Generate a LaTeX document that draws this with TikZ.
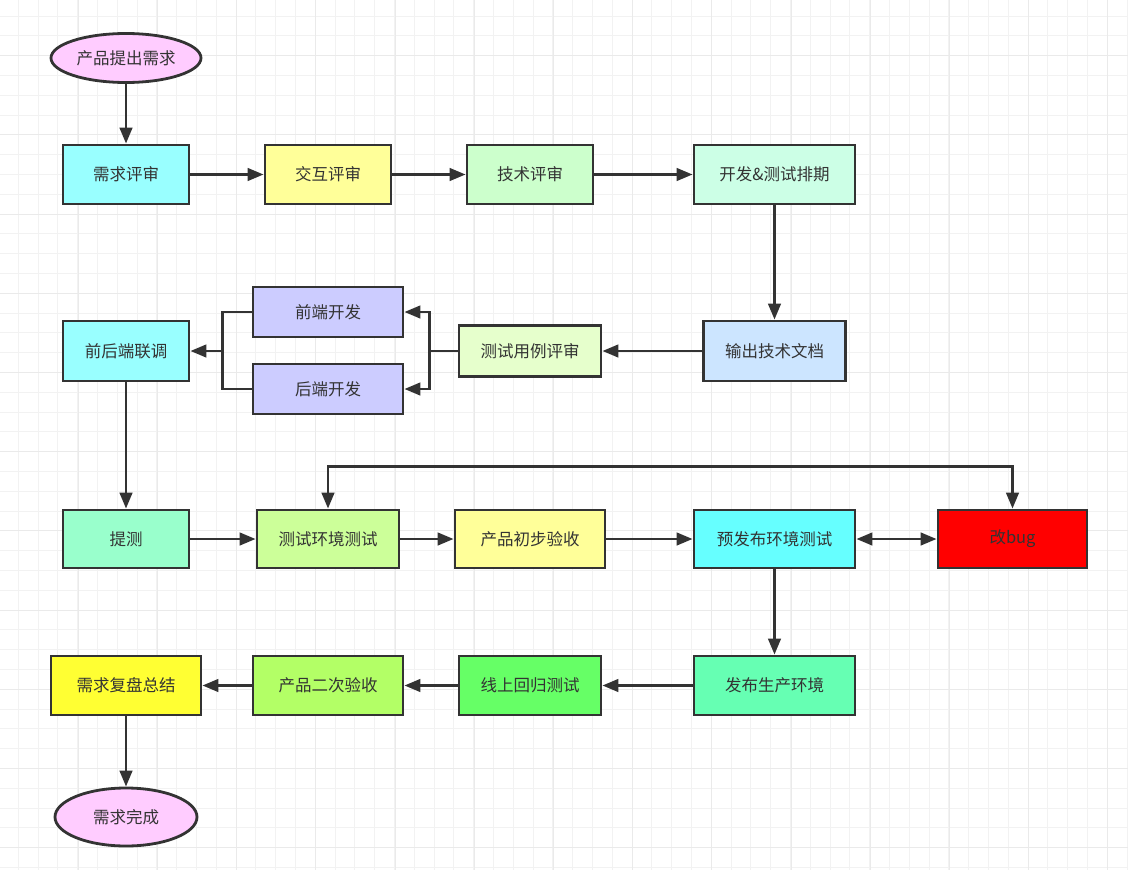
\documentclass[tikz,border=0pt]{standalone}
\usepackage{fontspec}
\usepackage{xcolor}
\usetikzlibrary{shapes.geometric,arrows.meta,positioning}
\newfontfamily\cjk{Noto Sans CJK SC}
\definecolor{linegray}{HTML}{333333}
\definecolor{gridminor}{HTML}{F2F2F2}
\definecolor{gridmajor}{HTML}{EAEAEA}
\definecolor{pinkc}{HTML}{FFCCFF}
\definecolor{cyanc}{HTML}{99FFFF}
\definecolor{yellowc}{HTML}{FFFF99}
\definecolor{mintc}{HTML}{CCFFCC}
\definecolor{aquac}{HTML}{CCFFE6}
\definecolor{bluec}{HTML}{CCE5FF}
\definecolor{limec}{HTML}{E6FFCC}
\definecolor{violetc}{HTML}{CCCCFF}
\definecolor{seac}{HTML}{99FFCC}
\definecolor{greenc}{HTML}{CCFF99}
\definecolor{skyc}{HTML}{66FFFF}
\definecolor{jadec}{HTML}{66FFB3}
\definecolor{grassc}{HTML}{66FF66}
\definecolor{applec}{HTML}{B3FF66}
\definecolor{lemonc}{HTML}{FFFF33}

\begin{document}
\begin{tikzpicture}[
    x=1pt, y=-1pt, % 像素坐标, y向下
    ->, % 有向图
    >={Triangle[length=16pt,width=12.5pt]}, % 实心三角箭头
    color=linegray,
    line width=2.8pt,
    node distance=202pt, % 同列宽的节点间距
    on grid, % node中心在网格点上
    every node/.style={font=\cjk\fontsize{16.5}{20}\selectfont, text=linegray},
    proc/.style={rectangle, draw=linegray, line width=2.8pt, inner sep=0pt,
      minimum width=126pt, minimum height=59pt},
    term/.style={ellipse, draw=linegray, line width=2.8pt, inner sep=0pt, fill=pinkc},
    gridline/.style={-, line width=1pt, gridminor},
    gridbold/.style={-, line width=1pt, gridmajor}
  ]
  \useasboundingbox (0,0) rectangle (1128,870);
  %% 背景网格
  \fill[white] (0,0) rectangle (1128,870);
  \foreach \i in {0,...,56} \draw[gridline] ({18.3+19.8*\i},0) -- ++(0,870);
  \foreach \i in {0,...,43} \draw[gridline] (0,{16+19.8*\i}) -- ++(1128,0);
  \foreach \i in {0,...,13} \draw[gridbold] ({78.3+79.2*\i},0) -- ++(0,870);
  \foreach \i in {0,...,10} \draw[gridbold] (0,{55.6+79.2*\i}) -- ++(1128,0);
  %% node
  \node[term, minimum width=150pt, minimum height=49pt] (start) at (126,58) {产品提出需求};
  \node[proc, fill=cyanc] (review) at (126,174.5) {需求评审};
  \node[proc, fill=yellowc, right=of review] (ux) {交互评审};
  \node[proc, fill=mintc, right=of ux] (tech) {技术评审};
  \node[proc, fill=aquac, minimum width=161pt, right=244.5pt of tech] (plan) {开发\&测试排期};
  \node[proc, fill=bluec, minimum width=142pt, minimum height=60pt, below=176.5pt of plan] (doc) {输出技术文档};
  \node[proc, fill=limec, minimum width=142pt, minimum height=51pt, left=244.5pt of doc] (case) {测试用例评审};
  \node[proc, fill=violetc, minimum width=150pt, minimum height=50pt, above left=39pt and 202pt of case] (fe) {前端开发};
  \node[proc, fill=violetc, minimum width=150pt, minimum height=50pt, below left=38pt and 202pt of case] (be) {后端开发};
  \node[proc, fill=cyanc, minimum height=60pt, left=404pt of case] (joint) {前后端联调};
  \node[proc, fill=seac, minimum height=58pt, below=188pt of joint] (submit) {提测};
  \node[proc, fill=greenc, minimum width=142pt, minimum height=58pt, right=of submit] (systest) {测试环境测试};
  \node[proc, fill=yellowc, minimum width=150pt, minimum height=58pt, right=of systest] (accept1) {产品初步验收};
  \node[proc, fill=skyc, minimum width=161pt, minimum height=58pt, right=244.5pt of accept1] (pretest) {预发布环境测试};
  \node[proc, fill=red, minimum width=149pt, minimum height=58pt, right=238pt of pretest] (bug) {改bug};
  \node[proc, fill=jadec, minimum width=161pt, below=146.5pt of pretest] (release) {发布生产环境};
  \node[proc, fill=grassc, minimum width=142pt, left=244.5pt of release] (online) {线上回归测试};
  \node[proc, fill=applec, minimum width=150pt, left=of online] (accept2) {产品二次验收};
  \node[proc, fill=lemonc, minimum width=150pt, left=of accept2] (summary) {需求复盘总结};
  \node[term, minimum width=142pt, minimum height=58pt, below=131.5pt of summary] (done) {需求完成};
  % 分叉点
  \coordinate[left=28pt of case.west] (split);
  \coordinate[right=32pt of joint.east] (merge);
  %% path
  \draw (start) -- (review);
  \draw (review) -- (ux);
  \draw (ux) -- (tech);
  \draw (tech) -- (plan);
  \draw (plan) -- (doc);
  \draw (doc) -- (case);
  \draw[-] (case) -- (split);
  \draw (split) |- (fe);
  \draw (split) |- (be);
  \draw[-] (fe) -| (merge);
  \draw[-] (be) -| (merge);
  \draw (merge) -- (joint);
  \draw (joint) -- (submit);
  \draw (submit) -- (systest);
  \draw (systest) -- (accept1);
  \draw (accept1) -- (pretest);
  \draw[<->] (pretest) -- (bug);
  \draw[<->] (systest.north) -- ++(0,-42) -| (bug.north);
  \draw (pretest) -- (release);
  \draw (release) -- (online);
  \draw (online) -- (accept2);
  \draw (accept2) -- (summary);
  \draw (summary) -- (done);
\end{tikzpicture}
\end{document}
